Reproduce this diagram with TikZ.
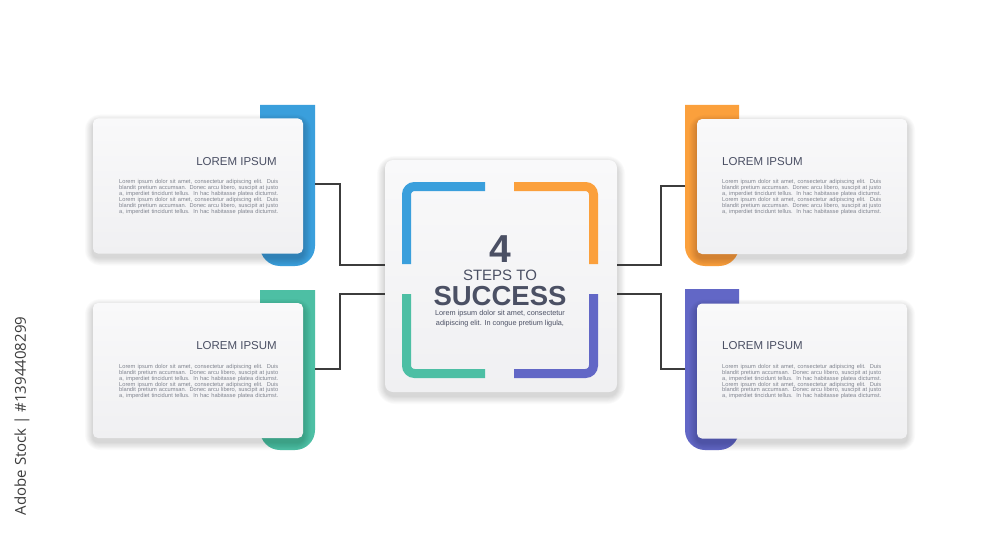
\documentclass[tikz,border=0pt]{standalone}
\usepackage{fontspec}
\setmainfont{Liberation Sans}
\newfontfamily\wmfont{Open Sans}
\definecolor{cblue}{HTML}{3A9FDC}
\definecolor{corange}{HTML}{FBA03C}
\definecolor{cgreen}{HTML}{4DBFA4}
\definecolor{cpurple}{HTML}{6267C6}
\definecolor{ink}{HTML}{4B5064}
\definecolor{bodyc}{HTML}{80848F}
\definecolor{linec}{HTML}{3C3C3C}
\definecolor{cardtop}{HTML}{F9F9FA}
\definecolor{cardbot}{HTML}{F0F0F2}
\newcommand{\jl}[1]{\makebox[159pt][s]{#1}}
\newcommand{\bodytext}{\jl{Lorem ipsum dolor sit amet, consectetur adipiscing elit. Duis}\\
\jl{blandit pretium accumsan. Donec arcu libero, suscipit at justo}\\
\jl{a, imperdiet tincidunt tellus. In hac habitasse platea dictumst.}\\
\jl{Lorem ipsum dolor sit amet, consectetur adipiscing elit. Duis}\\
\jl{blandit pretium accumsan. Donec arcu libero, suscipit at justo}\\
\jl{a, imperdiet tincidunt tellus. In hac habitasse platea dictumst.}}
\newcommand{\softshadow}[5]{%
  \foreach \i in {1,...,10} {%
    \fill[black, opacity=0.014, rounded corners=#5+\i] (#1-\i*0.8, #2-\i*0.8+4) rectangle (#3+\i*0.8, #4+\i*0.8+4);}}
\begin{document}
\begin{tikzpicture}[x=1pt,y=-1pt,
  card/.style={rectangle, rounded corners=5pt, top color=cardtop, bottom color=cardbot,
    minimum width=210pt, minimum height=135pt, inner sep=0pt},
  ccard/.style={rectangle, rounded corners=8pt, top color=cardtop, bottom color=cardbot,
    minimum width=232pt, minimum height=232pt, inner sep=0pt},
  title/.style={font=\fontsize{11.5}{12}\selectfont, text=ink, inner sep=0pt},
  body/.style={font=\fontsize{5.7}{5.9}\selectfont, text=bodyc, inner sep=0pt, align=left, anchor=north west},
  conn/.style={draw=linec, line width=1.2pt},
  corner/.style={line width=9pt, rounded corners=8pt}
]
\useasboundingbox[fill=white] (0,0) rectangle (1000,559);

% brackets behind cards
\fill[cblue] (260,105) -- (315,105) [rounded corners=20pt] -- (315,266) -- (260,266) [sharp corners] -- cycle;
\fill[cgreen] (260,290) -- (315,290) [rounded corners=20pt] -- (315,450) -- (260,450) [sharp corners] -- cycle;
\fill[corange] (739,105) -- (685,105) [rounded corners=20pt] -- (685,266) -- (739,266) [sharp corners] -- cycle;
\fill[cpurple] (739,289) -- (685,289) [rounded corners=20pt] -- (685,450) -- (739,450) [sharp corners] -- cycle;

% connector end points
\coordinate (b1) at (315,184);
\coordinate (b2) at (315,369);
\coordinate (b3) at (685,186);
\coordinate (b4) at (685,369);

% shadows
\softshadow{93}{118.5}{303}{253.5}{5}
\softshadow{93}{303}{303}{438}{5}
\softshadow{697}{119}{907}{254}{5}
\softshadow{697}{303.5}{907}{438.5}{5}
\softshadow{385}{160}{617}{392}{8}

% cards
\node[card] (c1) at (198,186) {};
\node[card] (c2) at (198,370.5) {};
\node[card] (c3) at (802,186.5) {};
\node[card] (c4) at (802,371) {};

% center card
\node[ccard] (ctr) at (501,276) {};
\coordinate (k1) at (ctr.west |- 0,265);
\coordinate (k2) at (ctr.west |- 0,294);
\coordinate (k3) at (ctr.east |- 0,265);
\coordinate (k4) at (ctr.east |- 0,294);

% connectors
\draw[conn] (b1) -- (340,184) -- (340,265) -- (k1);
\draw[conn] (b2) -- (340,369) -- (340,294) -- (k2);
\draw[conn] (b3) -- (661,186) -- (661,265) -- (k3);
\draw[conn] (b4) -- (661,369) -- (661,294) -- (k4);

% inner corners
\draw[corner, cblue] (485,186.5) -- (406.5,186.5) -- (406.5,264);
\draw[corner, corange] (514,186.5) -- (593.5,186.5) -- (593.5,264);
\draw[corner, cgreen] (406.5,294) -- (406.5,373.5) -- (485,373.5);
\draw[corner, cpurple] (514,373.5) -- (593.5,373.5) -- (593.5,294);

% center texts
\node[font=\bfseries\fontsize{39}{39}\selectfont, text=ink, inner sep=0pt] (n4) at (500,249) {4};
\node[font=\fontsize{15}{15}\selectfont, text=ink, inner sep=0pt] (st) at (500,275) {STEPS TO};
\node[font=\bfseries\fontsize{27.5}{27.5}\selectfont, text=ink, inner sep=0pt] (su) at (500,296) {SUCCESS};
\node[font=\fontsize{7.3}{10}\selectfont, text=ink, inner sep=0pt, align=center] (sl) at (500,318.5)
  {Lorem ipsum dolor sit amet, consectetur\\adipiscing elit. In congue pretium ligula,};

% card texts
\node[title, anchor=east] (t1) at (277,162) {LOREM IPSUM};
\node[body] (d1) at (119,179.5) {\bodytext};
\node[title, anchor=east] (t2) at (277,346) {LOREM IPSUM};
\node[body] (d2) at (119,364) {\bodytext};
\node[title, anchor=west] (t3) at (722,162) {LOREM IPSUM};
\node[body] (d3) at (722,179.5) {\bodytext};
\node[title, anchor=west] (t4) at (722,346) {LOREM IPSUM};
\node[body] (d4) at (722,364) {\bodytext};

% side text
\node[rotate=90, font=\wmfont\fontsize{15}{15}\selectfont, text=linec, inner sep=0pt] (wm) at (22,416) {Adobe Stock | \#1394408299};
\end{tikzpicture}
\end{document}
